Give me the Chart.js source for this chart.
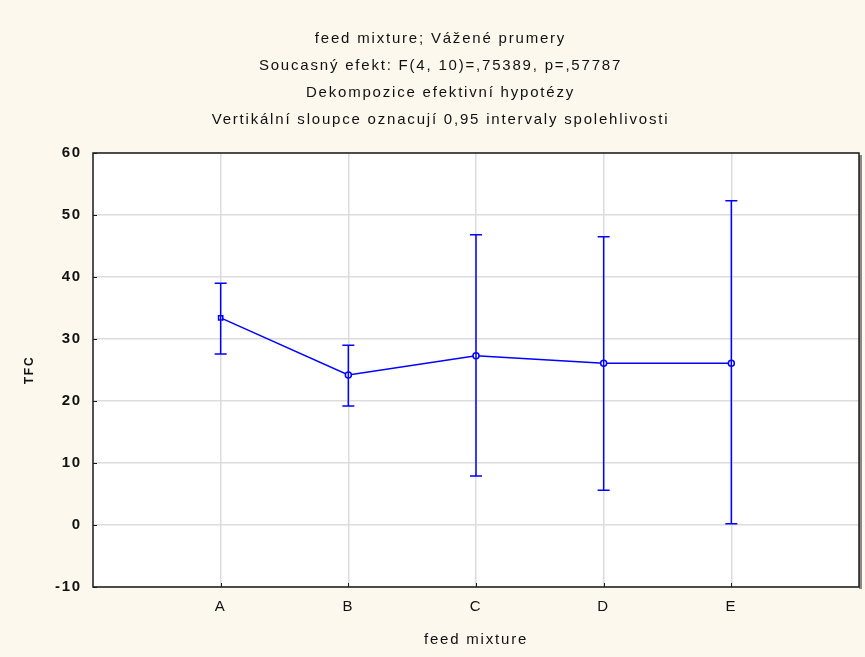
<!DOCTYPE html>
<html>
<head>
<meta charset="utf-8">
<script src="https://cdn.jsdelivr.net/npm/chart.js@4"></script>
<style>
    html, body { margin: 0; padding: 0; background: #fdf8ee; }
    #wrap { width: 865px; height: 657px; }
</style>
</head>
<body>
<div id="wrap"><canvas id="prumeryChart"></canvas></div>
<script>
// ── Data ─────────────
const categories = ['A', 'B', 'C', 'D', 'E'];
const means      = [33.4, 24.2, 27.3, 26.1, 26.1];
const upper      = [39.0, 29.0, 46.8, 46.5, 52.3];
const lower      = [27.6, 19.2, 7.9, 5.6, 0.2];
const yTicks     = [-10, 0, 10, 20, 30, 40, 50, 60];
const titleLines = [
    'feed mixture; Vážené prumery',
    'Soucasný efekt: F(4, 10)=,75389, p=,57787',
    'Dekompozice efektivní hypotézy',
    'Vertikální sloupce oznacují 0,95 intervaly spolehlivosti'
];

const BLUE = '#0000ff';
const FONT = 'Liberation Sans, Arial, sans-serif';

// white plot area + frame + error bars
const plotArea = {
    id: 'plotArea',
    beforeDraw(chart) {
        const a = chart.chartArea, c = chart.ctx;
        c.letterSpacing = '1.8px';   // the original text is spread out wide
        c.save();
        c.fillStyle = '#ffffff';
        c.fillRect(a.left, a.top, a.right - a.left, a.bottom - a.top);
        c.restore();
    },
    afterDraw(chart) {
        const a = chart.chartArea, c = chart.ctx;
        const x = chart.scales.x, y = chart.scales.y;
        c.save();
        // shadow on right
        c.fillStyle = '#8a8a8a';
        c.fillRect(a.right, a.top + 2, 3, a.bottom - a.top);
        c.strokeStyle = '#1a1a1a';
        c.lineWidth = 1.5;
        c.strokeRect(a.left, a.top, a.right - a.left, a.bottom - a.top);
        // small tick marks
        c.lineWidth = 1;
        yTicks.forEach(v => {
            const py = Math.round(y.getPixelForValue(v)) + 0.5;
            c.beginPath(); c.moveTo(a.left, py); c.lineTo(a.left + 4, py); c.stroke();
        });
        categories.forEach((_, i) => {
            const px = Math.round(x.getPixelForValue(i)) + 0.5;
            c.beginPath(); c.moveTo(px, a.bottom); c.lineTo(px, a.bottom - 4); c.stroke();
        });
        c.restore();
    },
    afterDatasetsDraw(chart) {
        const c = chart.ctx;
        const x = chart.scales.x, y = chart.scales.y;
        c.save();
        c.strokeStyle = BLUE;
        c.lineWidth = 1.5;
        categories.forEach((_, i) => {
            const px = x.getPixelForValue(i);
            const pu = y.getPixelForValue(upper[i]);
            const pl = y.getPixelForValue(lower[i]);
            c.beginPath();
            c.moveTo(px, pu); c.lineTo(px, pl);
            c.moveTo(px - 6, pu); c.lineTo(px + 6, pu);
            c.moveTo(px - 6, pl); c.lineTo(px + 6, pl);
            c.stroke();
        });
        c.restore();
    }
};

new Chart(document.getElementById('prumeryChart'), {
    type: 'line',
    data: {
        datasets: [{
            data: means.map((m, i) => ({ x: i, y: m })),
            borderColor: BLUE,
            borderWidth: 1.5,
            pointStyle: categories.map((_, i) => i === 0 ? 'rect' : 'circle'),
            pointRadius: 3,
            pointBackgroundColor: '#ffffff',
            pointBorderColor: BLUE,
            pointBorderWidth: 1.5,
            tension: 0
        }]
    },
    options: {
        responsive: true,
        maintainAspectRatio: false,
        animation: false,
        layout: { padding: { left: 22, right: 6, top: 0, bottom: 0 } },
        scales: {
            x: {
                type: 'linear',
                min: -1,
                max: 5,
                afterBuildTicks: s => { s.ticks = categories.map((_, i) => ({ value: i })); },
                afterFit: s => { s.height = 70; },
                grid: { color: '#dcdcdc', lineWidth: 1.5, drawTicks: false },
                border: { display: false },
                ticks: {
                    padding: 11,
                    color: '#111',
                    font: { family: FONT, size: 15 },
                    callback: v => categories[v] ?? ''
                },
                title: {
                    display: true,
                    text: 'feed mixture',
                    color: '#111',
                    font: { family: FONT, size: 15 },
                    padding: { top: 0, bottom: 8 }
                }
            },
            y: {
                min: -10,
                max: 60,
                afterBuildTicks: s => { s.ticks = yTicks.map(v => ({ value: v })); },
                afterFit: s => { s.width = 71; },
                grid: { color: '#dcdcdc', lineWidth: 1.5, drawTicks: false },
                border: { display: false },
                ticks: {
                    padding: 11,
                    color: '#111',
                    font: { family: FONT, size: 15, weight: 'bold' }
                },
                title: {
                    display: true,
                    text: 'TFC',
                    color: '#111',
                    font: { family: FONT, size: 12, weight: 'bold' },
                    padding: { top: 0, bottom: 0 }
                }
            }
        },
        plugins: {
            legend: { display: false },
            tooltip: { enabled: false },
            title: {
                display: true,
                text: titleLines,
                color: '#111',
                font: { family: FONT, size: 15, weight: 'normal', lineHeight: 1.8 },
                padding: { top: 25, bottom: 20 }
            }
        }
    },
    plugins: [plotArea]
});
</script>
</body>
</html>
